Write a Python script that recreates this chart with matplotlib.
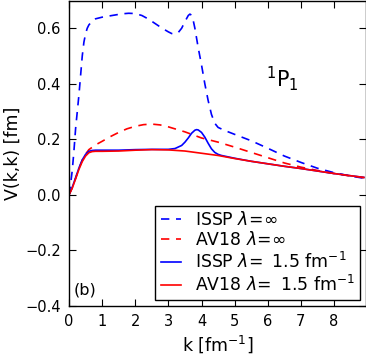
import matplotlib
matplotlib.use('Agg')
import matplotlib.pyplot as plt

# ISSP, lambda = infinity (blue dashed)
k_issp_inf = [0.0, 0.05, 0.1, 0.15, 0.2, 0.25, 0.3, 0.35, 0.4, 0.45, 0.5, 0.55, 0.6, 0.7,
              0.8, 1.0, 1.2, 1.4, 1.6, 1.8, 2.0, 2.2, 2.4, 2.6, 2.8, 3.0, 3.1, 3.2, 3.3,
              3.4, 3.5, 3.6, 3.65, 3.7, 3.75, 3.8, 3.9, 4.0, 4.1, 4.2, 4.3, 4.4, 4.5,
              4.7, 5.0, 5.5, 6.0, 6.5, 7.0, 7.5, 8.0, 8.5, 8.9]
v_issp_inf = [0.0, 0.04, 0.09, 0.16, 0.24, 0.30, 0.36, 0.43, 0.50, 0.55, 0.580, 0.600, 0.612, 0.626,
              0.634, 0.640, 0.644, 0.648, 0.652, 0.654, 0.653, 0.646, 0.633, 0.617, 0.601, 0.587, 0.581, 0.579, 0.585,
              0.600, 0.624, 0.646, 0.651, 0.647, 0.628, 0.600, 0.530, 0.468, 0.400, 0.340, 0.290, 0.258, 0.243,
              0.232, 0.218, 0.195, 0.168, 0.140, 0.117, 0.096, 0.080, 0.068, 0.060]

# AV18, lambda = infinity (red dashed)
k_av18_inf = [0.0, 0.1, 0.2, 0.3, 0.4, 0.5, 0.6, 0.8, 1.0, 1.25, 1.5, 1.75, 2.0, 2.25, 2.5,
              2.75, 3.0, 3.25, 3.5, 3.75, 4.0, 4.5, 5.0, 5.5, 6.0, 6.5, 7.0, 7.5, 8.0, 8.5, 8.9]
v_av18_inf = [0.0, 0.027, 0.06, 0.095, 0.125, 0.147, 0.163, 0.180, 0.193, 0.210, 0.225, 0.238, 0.247, 0.253, 0.255,
              0.252, 0.245, 0.236, 0.227, 0.216, 0.205, 0.190, 0.172, 0.153, 0.134, 0.115, 0.100, 0.088, 0.077, 0.068, 0.062]

# ISSP, lambda = 1.5 fm^-1 (blue solid)
k_issp_15 = [0.0, 0.1, 0.2, 0.3, 0.4, 0.5, 0.6, 0.7, 0.8, 1.0, 1.5, 2.0, 2.5, 3.0, 3.2, 3.4,
             3.5, 3.6, 3.7, 3.8, 3.85, 3.9, 4.0, 4.1, 4.2, 4.3, 4.4, 4.5, 4.6, 5.0, 5.5,
             6.0, 6.5, 7.0, 7.5, 8.0, 8.5, 8.9]
v_issp_15 = [0.0, 0.028, 0.062, 0.097, 0.126, 0.146, 0.157, 0.160, 0.161, 0.161, 0.161, 0.163, 0.164, 0.164, 0.167, 0.178,
             0.190, 0.205, 0.222, 0.233, 0.235, 0.234, 0.225, 0.208, 0.186, 0.166, 0.153, 0.146, 0.142, 0.132, 0.121,
             0.112, 0.103, 0.095, 0.086, 0.077, 0.069, 0.063]

# AV18, lambda = 1.5 fm^-1 (red solid)
k_av18_15 = [0.0, 0.1, 0.2, 0.3, 0.4, 0.5, 0.6, 0.7, 0.8, 1.0, 1.5, 2.0, 2.5, 3.0, 3.5, 4.0,
             4.5, 5.0, 5.5, 6.0, 6.5, 7.0, 7.5, 8.0, 8.5, 8.9]
v_av18_15 = [0.0, 0.025, 0.058, 0.092, 0.120, 0.140, 0.152, 0.156, 0.157, 0.157, 0.158, 0.161, 0.163, 0.162, 0.158, 0.150,
             0.142, 0.131, 0.121, 0.112, 0.103, 0.095, 0.086, 0.077, 0.069, 0.063]

x_ticks = [0, 1, 2, 3, 4, 5, 6, 7, 8]
y_ticks = [-0.4, -0.2, 0.0, 0.2, 0.4, 0.6]

fig = plt.figure(figsize=(3.66, 3.58), dpi=100)
ax = fig.add_axes([69 / 366, 52 / 358, 296.5 / 366, 305.5 / 358])

dash = (5, 4)
ax.plot(k_issp_inf, v_issp_inf, color='b', lw=1.2, dashes=dash, label=r'ISSP $\lambda\!=\!\infty$')
ax.plot(k_av18_inf, v_av18_inf, color='r', lw=1.2, dashes=dash, label=r'AV18 $\lambda\!=\!\infty$')
ax.plot(k_issp_15, v_issp_15, color='b', lw=1.2, label=r'ISSP $\lambda\!=$ 1.5 fm$^{-1}$')
ax.plot(k_av18_15, v_av18_15, color='r', lw=1.2, label=r'AV18 $\lambda\!=$ 1.5 fm$^{-1}$')

ax.set_xlim(0, 8.95)
ax.set_ylim(-0.4, 0.7)
ax.set_xticks(x_ticks)
ax.set_yticks(y_ticks)
ax.tick_params(direction='in', top=True, right=True, length=5, labelsize=10.5, pad=6)
for s in ax.spines.values():
    s.set_linewidth(1.0)

ax.set_xlabel(r'k [fm$^{-1}$]', fontsize=12.5, labelpad=3)
ax.set_ylabel('V(k,k) [fm]', fontsize=12.5, labelpad=2)

ax.text(6.43, 0.42, r'$^1$P$_1$', fontsize=15, ha='center', va='center')
ax.text(0.15, -0.37, '(b)', fontsize=11.5, ha='left', va='bottom')

leg = ax.legend(loc='lower right', bbox_to_anchor=(0.981, 0.02), borderaxespad=0,
                fontsize=12.4, fancybox=False, edgecolor='black', framealpha=1,
                handlelength=1.2, borderpad=0.3, labelspacing=0.15, handletextpad=0.8)
leg.get_frame().set_linewidth(1.0)

fig.savefig('out.png', dpi=100)
